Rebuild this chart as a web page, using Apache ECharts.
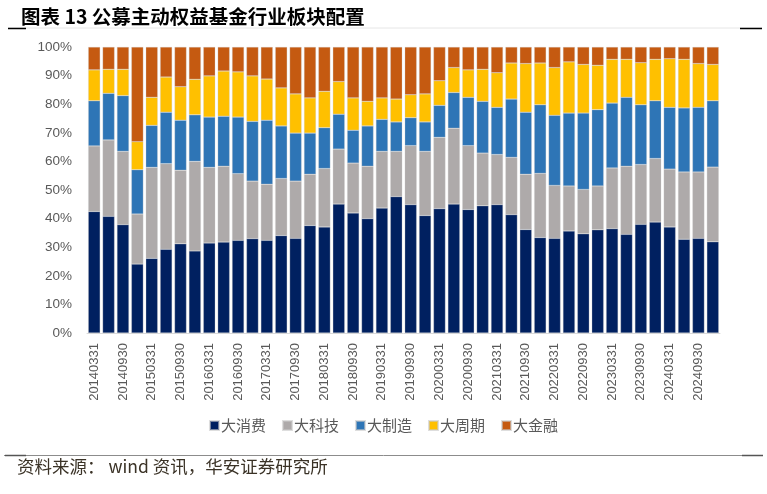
<!DOCTYPE html>
<html>
<head>
<meta charset="utf-8">
<script src="https://cdn.jsdelivr.net/npm/echarts@6/dist/echarts.min.js"></script>
<style>
html,body{margin:0;padding:0;background:#fff;}
#chart{width:767px;height:494px;}
</style>
</head>
<body>
<div id="chart"></div>
<script>
const categories = [
  '20140331','20140630','20140930','20141231',
  '20150331','20150630','20150930','20151231',
  '20160331','20160630','20160930','20161231',
  '20170331','20170630','20170930','20171231',
  '20180331','20180630','20180930','20181231',
  '20190331','20190630','20190930','20191231',
  '20200331','20200630','20200930','20201231',
  '20210331','20210630','20210930','20211231',
  '20220331','20220630','20220930','20221231',
  '20230331','20230630','20230930','20231231',
  '20240331','20240630','20240930','20241231'
];
const seriesNames = ['大消费','大科技','大制造','大周期','大金融'];
const consumption = [42.5,40.8,37.9,24.1,26.1,29.3,31.2,28.7,31.5,31.8,32.4,33.0,32.4,34.1,33.1,37.6,37.1,45.1,42.0,40.0,43.7,47.7,44.9,41.1,43.5,45.1,43.2,44.5,44.9,41.4,36.2,33.4,33.1,35.7,34.7,36.1,36.5,34.5,38.0,38.8,37.1,32.8,33.1,31.9];
const technology  = [22.9,26.7,25.6,17.5,31.8,29.9,25.7,31.3,26.4,26.5,23.3,20.1,19.6,19.9,20.0,17.9,20.4,19.2,17.4,18.3,19.8,15.8,20.6,22.4,24.9,26.5,22.3,18.4,17.5,20.0,19.3,22.4,18.5,15.7,15.5,15.3,21.2,23.8,20.9,22.2,20.2,23.5,23.2,26.1];
const manufacture = [15.8,16.3,19.5,15.5,14.7,18.0,17.5,16.3,17.6,17.5,19.8,20.9,22.4,18.4,16.8,14.4,14.3,12.2,11.5,14.1,11.2,10.3,9.8,10.3,11.2,12.5,16.9,18.1,16.5,20.4,21.7,24.0,24.5,25.5,26.7,26.7,22.7,24.1,20.9,20.2,21.6,22.4,22.6,23.2];
const cyclical    = [10.8,8.4,9.2,9.8,9.8,12.3,11.7,12.4,14.4,15.8,15.8,15.9,14.4,13.3,13.7,12.3,12.7,11.4,11.3,8.6,7.5,8.0,8.0,9.8,8.6,8.7,9.6,11.2,12.1,12.6,17.0,14.6,16.7,17.9,17.0,15.5,15.3,13.3,14.7,14.5,17.0,17.0,15.3,12.7];
const finance     = [8.0,7.8,7.8,33.1,17.6,10.5,13.9,11.3,10.1,8.4,8.7,10.1,11.2,14.3,16.4,17.8,15.5,12.1,17.8,19.0,17.8,18.2,16.7,16.4,11.8,7.2,8.0,7.8,9.0,5.6,5.8,5.6,7.2,5.2,6.1,6.4,4.3,4.3,5.5,4.3,4.1,4.3,5.8,6.1];
const yTicks = [0,10,20,30,40,50,60,70,80,90,100];

const colors = ['#002060','#AEAAAA','#2E75B6','#FFC000','#C55A11'];
const dataList = [consumption, technology, manufacture, cyclical, finance];

const chart = echarts.init(document.getElementById('chart'), null, {renderer:'canvas'});
const font = '"Noto Sans CJK SC","Liberation Sans",sans-serif';
chart.setOption({
  animation:false,
  backgroundColor:'#fff',
  title:{
    text:'图表 13 公募主动权益基金行业板块配置',
    left:16, top:2,
    textStyle:{fontFamily:font,fontSize:19.5,fontWeight:'bold',color:'#000'}
  },
  legend:{
    data:seriesNames,
    bottom:56,
    left:'center',
    itemWidth:9, itemHeight:9, itemGap:16,
    icon:'rect',
    textStyle:{fontFamily:font,fontSize:15,color:'#595959',padding:[0,0,0,-3]}
  },
  grid:{left:87,right:47,top:47,bottom:161},
  xAxis:{
    type:'category',
    data:categories,
    axisLine:{lineStyle:{color:'#D9D9D9',width:1}},
    axisTick:{show:false},
    axisLabel:{interval:1,rotate:90,fontFamily:'"Liberation Sans",Arial,sans-serif',fontSize:13,color:'#595959',margin:10}
  },
  yAxis:{
    type:'value',min:0,max:100,interval:10,
    axisLine:{show:false},axisTick:{show:false},
    splitLine:{show:false},
    axisLabel:{formatter:v=>v+'%',fontFamily:'"Liberation Sans",Arial,sans-serif',fontSize:13.5,color:'#595959',margin:15}
  },
  series: seriesNames.map((n,i)=>({
    name:n,type:'bar',stack:'total',
    data:dataList[i],
    barCategoryGap:'17%',
    itemStyle:{color:colors[i],borderColor:'rgba(200,200,200,0.6)',borderWidth:0.5}
  })),
  graphic:[
    {type:'line',shape:{x1:8,y1:28,x2:762,y2:28},style:{stroke:'#E6E6E6',lineWidth:1}},
    {type:'line',shape:{x1:8,y1:28.5,x2:26,y2:28.5},style:{stroke:'#000',lineWidth:1.5}},
    {type:'line',shape:{x1:740,y1:28.5,x2:762,y2:28.5},style:{stroke:'#000',lineWidth:1.5}},
    {type:'line',shape:{x1:4,y1:455.5,x2:763,y2:455.5},style:{stroke:'#8C8C8C',lineWidth:1}},
    {type:'line',shape:{x1:5,y1:455.5,x2:26,y2:455.5},style:{stroke:'#555',lineWidth:1.5}},
    {type:'line',shape:{x1:742,y1:455.5,x2:763,y2:455.5},style:{stroke:'#555',lineWidth:1.5}},
    {type:'text',left:17,top:458,style:{text:'资料来源： wind 资讯，华安证券研究所',font:'17.5px '+font,fill:'#3A3226'}}
  ]
});
</script>
</body>
</html>
